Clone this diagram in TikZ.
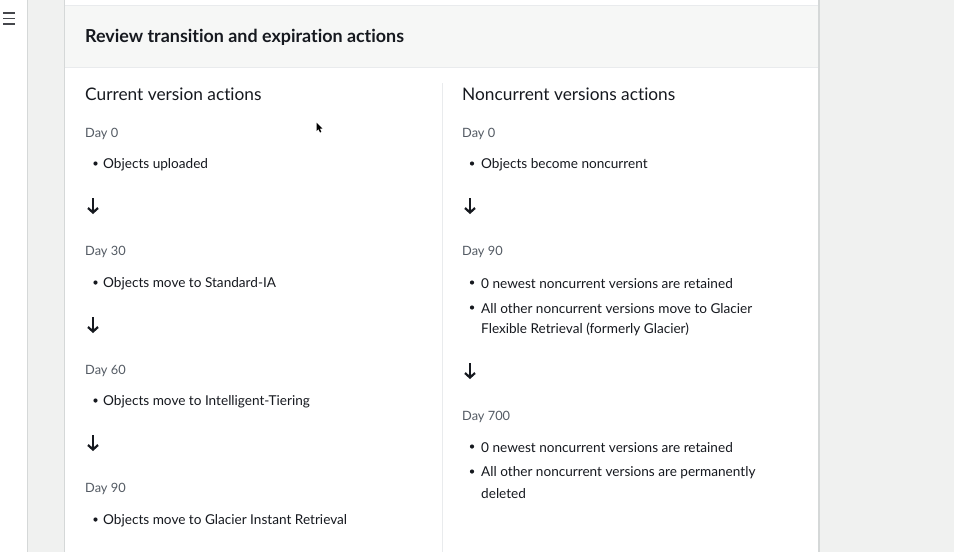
\documentclass[tikz,border=0pt]{standalone}
\usepackage{fontspec}
\setmainfont{Lato}[RawFeature={-liga}]
\usetikzlibrary{arrows.meta}
\definecolor{ink}{HTML}{16191F}
\definecolor{daygray}{HTML}{545B64}
\definecolor{gutter}{HTML}{F0F1F0}
\definecolor{edge}{HTML}{D5D8D8}
\definecolor{headbg}{HTML}{F6F7F6}
\definecolor{divider}{HTML}{E9EBED}
\tikzset{
  title/.style={anchor=west,inner sep=0pt,text=ink,font=\fontsize{17.9}{20}\selectfont\bfseries},
  colhead/.style={anchor=west,inner sep=0pt,text=ink,font=\fontsize{17.3}{20}\selectfont},
  daylbl/.style={anchor=west,inner sep=0pt,text=daygray,font=\fontsize{12.8}{15}\selectfont},
  item/.style={anchor=west,inner sep=0pt,text=ink,font=\fontsize{13.6}{16}\selectfont},
  dot/.style={circle,fill=ink,inner sep=0pt,minimum size=4.2pt},
  downarrow/.style={-{Straight Barb[length=4.5pt,width=10pt,line width=2.2pt]},line width=2.2pt,ink},
}
\begin{document}
\begin{tikzpicture}[x=1pt,y=-1pt]
\useasboundingbox (0,0) rectangle (954,552);
\fill[white] (0,0) rectangle (954,552);
% left gutter
\fill[gutter] (27,0) rectangle (65,552);
\draw[edge,line width=1pt] (27.5,0) -- (27.5,552);
\draw[edge,line width=0.8pt] (64.5,0) -- (64.5,552);
% right area
\fill[gutter] (818,0) rectangle (954,552);
\draw[edge,line width=1.5pt] (819,0) -- (819,552);
% header band
\fill[headbg] (65,5) rectangle (818,67);
\draw[divider,line width=0.8pt] (65,5) -- (818,5);
\draw[divider,line width=0.8pt] (65,67) -- (818,67);
% column divider
\draw[divider,line width=0.8pt] (442,83) -- (442,552);
% hamburger
\foreach \yy in {13,18.5,24}{\draw[ink!80,line width=1.2pt] (3,\yy) -- (15,\yy);}
% cursor
\fill[black] (316.5,122.5) -- (316.5,131) -- (318.5,129.2) -- (320,132.5) -- (321.3,131.9) -- (319.9,128.7) -- (322.4,128.5) -- cycle;

\node[title] (ttl) at (85,37) {Review transition and expiration actions};
\node[colhead] (lh) at (85,94) {Current version actions};
\node[colhead] (rh) at (462,94) {Noncurrent versions actions};

% left column
\node[daylbl] (l0) at (85,133.5) {Day 0};
\node[dot] (lb0) at (95.5,163.5) {};
\node[item] (li0) at (103,164.5) {Objects uploaded};
\coordinate (la1s) at (93,198);
\coordinate (la1e) at (93,214);
\draw[downarrow] (la1s) -- (la1e);
\node[daylbl] (l30) at (85,251.5) {Day 30};
\node[dot] (lb30) at (95.5,282.5) {};
\node[item] (li30) at (103,283.5) {Objects move to Standard-IA};
\coordinate (la2s) at (93,317);
\coordinate (la2e) at (93,333);
\draw[downarrow] (la2s) -- (la2e);
\node[daylbl] (l60) at (85,370.5) {Day 60};
\node[dot] (lb60) at (95.5,400.5) {};
\node[item] (li60) at (103,401.5) {Objects move to Intelligent-Tiering};
\coordinate (la3s) at (93,435);
\coordinate (la3e) at (93,451);
\draw[downarrow] (la3s) -- (la3e);
\node[daylbl] (l90) at (85,488.5) {Day 90};
\node[dot] (lb90) at (95.5,519.5) {};
\node[item] (li90) at (103,520.5) {Objects move to Glacier Instant Retrieval};

% right column
\node[daylbl] (r0) at (462,133.5) {Day 0};
\node[dot] (rb0) at (472,163.5) {};
\node[item] (ri0) at (481,164.5) {Objects become noncurrent};
\coordinate (ra1s) at (470,198);
\coordinate (ra1e) at (470,214);
\draw[downarrow] (ra1s) -- (ra1e);
\node[daylbl] (r90) at (462,251.5) {Day 90};
\node[dot] (rb90a) at (472,282.5) {};
\node[item] (ri90a) at (481,283.5) {0 newest noncurrent versions are retained};
\node[dot] (rb90b) at (472,307.5) {};
\node[item] (ri90b) at (481,308.5) {All other noncurrent versions move to Glacier};
\node[item] (ri90c) at (481,329.5) {Flexible Retrieval (formerly Glacier)};
\coordinate (ra2s) at (470,363);
\coordinate (ra2e) at (470,379);
\draw[downarrow] (ra2s) -- (ra2e);
\node[daylbl] (r700) at (462,416.5) {Day 700};
\node[dot] (rb700a) at (472,446.5) {};
\node[item] (ri700a) at (481,447.5) {0 newest noncurrent versions are retained};
\node[dot] (rb700b) at (472,471.5) {};
\node[item] (ri700b) at (481,472.5) {All other noncurrent versions are permanently};
\node[item] (ri700c) at (481,493.5) {deleted};
\end{tikzpicture}
\end{document}
